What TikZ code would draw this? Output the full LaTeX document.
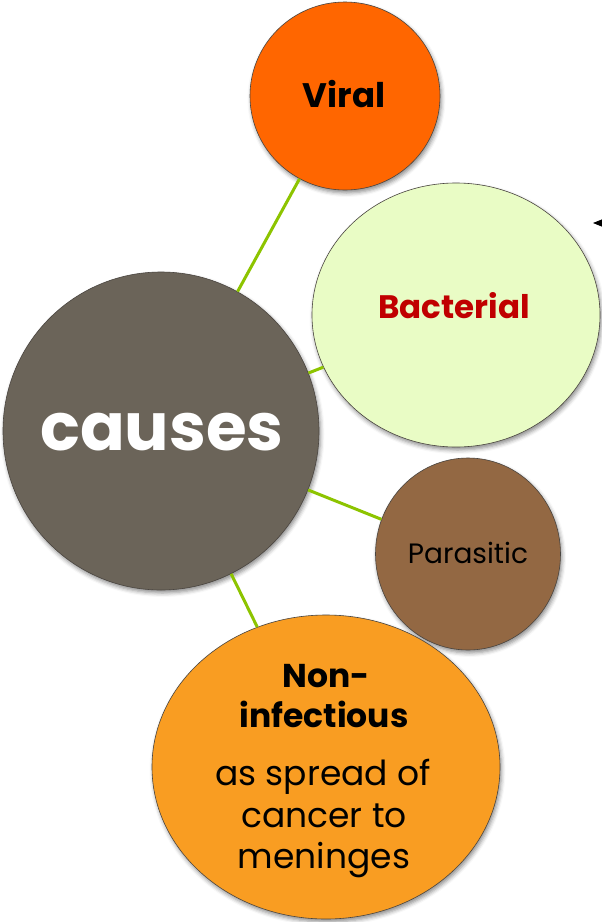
\documentclass[tikz,border=0pt]{standalone}
\usepackage{fontspec}
\setmainfont{Poppins}
\usetikzlibrary{shapes.geometric,shadows.blur,arrows.meta}
\definecolor{linkgreen}{HTML}{8DC400}
\definecolor{viralc}{HTML}{FF6600}
\definecolor{bactc}{HTML}{E9FCC5}
\definecolor{bactt}{HTML}{C00000}
\definecolor{causec}{HTML}{6B6459}
\definecolor{parac}{HTML}{936843}
\definecolor{nonc}{HTML}{F99D22}
\definecolor{edgec}{HTML}{4A4540}
\tikzset{
  bubble/.style={ellipse, draw=edgec, line width=0.6pt, inner sep=0pt,
    blur shadow={shadow xshift=1.5pt, shadow yshift=-3pt, shadow blur radius=4pt, shadow opacity=45}},
  link/.style={draw=linkgreen, line width=3pt},
  lbl/.style={inner sep=0pt, anchor=base}
}
\begin{document}
\begin{tikzpicture}[x=1pt,y=-1pt]
\useasboundingbox (0,0) rectangle (602,922);
% bubbles
\node[bubble, fill=viralc, minimum width=190pt, minimum height=188pt] (viral) at (345,96) {};
\node[bubble, fill=bactc, minimum width=288pt, minimum height=264pt] (bact) at (456,315) {};
\node[bubble, fill=causec, minimum width=316pt, minimum height=318pt] (causes) at (161,431) {};
\node[bubble, fill=parac, minimum width=185pt, minimum height=192pt] (para) at (468,554) {};
\node[bubble, fill=nonc, minimum width=348pt, minimum height=304pt] (non) at (326,767) {};
% connectors
\draw[link] (causes) -- (viral);
\draw[link] (causes) -- (bact);
\draw[link] (causes) -- (para);
\draw[link] (causes) -- (non);
% labels
\node[lbl, font=\bfseries\fontsize{34}{40}\selectfont] (tviral) at (344,107) {Viral};
\node[lbl, font=\bfseries\fontsize{32.5}{40}\selectfont, text=bactt] (tbact) at (454,318) {Bacterial};
\node[lbl, font=\bfseries\fontsize{66}{76}\selectfont, text=white] (tcauses) at (162,450) {causes};
\node[lbl, font=\fontsize{28}{32}\selectfont] (tpara) at (468,563) {Parasitic};
\node[lbl, font=\bfseries\fontsize{33}{40}\selectfont] (tnon1) at (326,687) {Non-};
\node[lbl, font=\bfseries\fontsize{33}{40}\selectfont] (tnon2) at (324,727) {infectious};
\node[lbl, font=\fontsize{34.5}{41}\selectfont] (tsp1) at (323,785) {as spread of};
\node[lbl, font=\fontsize{34.5}{41}\selectfont] (tsp2) at (324,827) {cancer to};
\node[lbl, font=\fontsize{34.5}{41}\selectfont] (tsp3) at (324,868) {meninges};
% arrow at right edge
\coordinate (arrtail) at (640,223);
\coordinate (arrtip) at (593,223);
\draw[line width=0.8pt, -{Triangle[length=9pt,width=7pt]}] (arrtail) -- (arrtip);
\end{tikzpicture}
\end{document}
